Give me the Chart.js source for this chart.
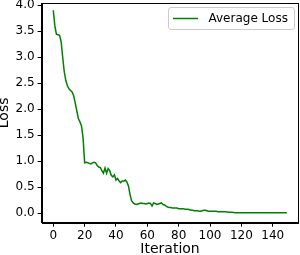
<!DOCTYPE html>
<html>
<head>
<meta charset="utf-8">
<script src="https://cdn.jsdelivr.net/npm/chart.js@4/dist/chart.umd.min.js"></script>
<style>
	html, body { margin: 0; padding: 0; background: #fff; }
	#wrap { width: 300px; height: 255px; }
</style>
</head>
<body>
<div id="wrap"><canvas id="chart" width="300" height="255"></canvas></div>
<script>
// Average loss per iteration
const loss_values = [
	3.90, 3.60, 3.44, 3.43, 3.42, 3.30, 3.00, 2.72, 2.55, 2.45,
	2.39, 2.36, 2.33, 2.26, 2.12, 1.97, 1.82, 1.76, 1.68, 1.45,
	0.97, 0.98, 0.97, 0.96, 0.95, 0.97, 0.98, 0.97, 0.92, 0.89,
	0.88, 0.82, 0.77, 0.87, 0.77, 0.86, 0.82, 0.73, 0.70, 0.74,
	0.64, 0.67, 0.62, 0.59, 0.62, 0.62, 0.64, 0.60, 0.52, 0.36,
	0.24, 0.20, 0.18, 0.17, 0.18, 0.19, 0.20, 0.19, 0.19, 0.18,
	0.19, 0.20, 0.19, 0.14, 0.20, 0.19, 0.17, 0.18, 0.19, 0.20,
	0.17, 0.16, 0.14, 0.12, 0.11, 0.11, 0.10, 0.10, 0.10, 0.10,
	0.09, 0.09, 0.09, 0.09, 0.08, 0.08, 0.08, 0.07, 0.06, 0.06,
	0.05, 0.05, 0.05, 0.04, 0.04, 0.05, 0.06, 0.06, 0.05, 0.04,
	0.04, 0.04, 0.04, 0.04, 0.04, 0.03, 0.03, 0.03, 0.03, 0.03,
	0.03, 0.025, 0.02, 0.02, 0.02, 0.015, 0.01, 0.01, 0.01, 0.01,
	0.01, 0.01, 0.01, 0.01, 0.01, 0.01, 0.01, 0.01, 0.01, 0.01,
	0.01, 0.01, 0.01, 0.01, 0.01, 0.01, 0.01, 0.01, 0.01, 0.01,
	0.01, 0.01, 0.01, 0.01, 0.01, 0.01, 0.01, 0.01, 0.01, 0.01
];
const x_ticks = [0, 20, 40, 60, 80, 100, 120, 140];
const y_ticks = [0.0, 0.5, 1.0, 1.5, 2.0, 2.5, 3.0, 3.5, 4.0];
const series_label = 'Average Loss';

const font_family = "'DejaVu Sans', sans-serif";
const line_color = '#008000';

// points as {x: iteration, y: loss}
const points = loss_values.map((v, i) => ({ x: i, y: v }));

// matplotlib-style frame + legend box inside the axes
const frame_plugin = {
	id: 'frame',
	afterDraw (chart) {
		const c = chart.ctx;
		const a = chart.chartArea;
		c.save();
		c.strokeStyle = '#000';
		c.lineWidth = 1;
		c.strokeRect(Math.round(a.left) + 0.5, Math.round(a.top) + 0.5,
			Math.round(a.right - a.left) - 1, Math.round(a.bottom - a.top));

		// legend
		const w = 126, h = 22;
		const lx = a.right - 4 - w, ly = a.top + 4.5;
		c.beginPath();
		c.roundRect(lx, ly, w, h, 2.5);
		c.fillStyle = 'rgba(255,255,255,0.8)';
		c.fill();
		c.strokeStyle = '#cccccc';
		c.lineWidth = 1;
		c.stroke();
		c.beginPath();
		c.moveTo(lx + 4.5, ly + h / 2);
		c.lineTo(lx + 29.5, ly + h / 2);
		c.strokeStyle = line_color;
		c.lineWidth = 1.5;
		c.stroke();
		c.fillStyle = '#000';
		c.font = '12px ' + font_family;
		c.textBaseline = 'middle';
		c.fillText(series_label, lx + 40, ly + h / 2 + 0.5);
		c.restore();
	}
};

// no extra room for half tick labels: the plot box is fixed like matplotlib's
function noLabelPadding (s) {
	s.paddingTop = 0;
	s.paddingBottom = 0;
	s.paddingLeft = 0;
	s.paddingRight = 0;
}

new Chart(document.getElementById('chart'), {
	type: 'line',
	data: {
		datasets: [{
			label: series_label,
			data: points,
			borderColor: line_color,
			borderWidth: 1.5,
			pointRadius: 0,
			tension: 0,
			fill: false
		}]
	},
	options: {
		responsive: false,
		animation: false,
		events: [],
		layout: { padding: { top: 3, right: 1.5, left: 0, bottom: 0 } },
		plugins: {
			legend: { display: false },
			tooltip: { enabled: false }
		},
		scales: {
			x: {
				type: 'linear',
				min: -7.45,
				max: 156.45,
				afterFit: s => { s.height = 32.3; noLabelPadding(s); },
				afterBuildTicks: s => { s.ticks = x_ticks.map(v => ({ value: v })); },
				grid: { drawOnChartArea: false, drawTicks: true, tickLength: 4, tickColor: '#000', tickWidth: 1 },
				border: { display: true, color: '#000', width: 1 },
				ticks: {
					color: '#000',
					padding: 2,
					maxRotation: 0,
					autoSkip: false,
					font: { family: font_family, size: 12 },
					callback: v => String(v)
				},
				title: {
					display: true,
					text: 'Iteration',
					color: '#000',
					padding: 0,
					font: { family: font_family, size: 14, lineHeight: 0.85 }
				}
			},
			y: {
				type: 'linear',
				min: -0.18,
				max: 4.04,
				afterFit: s => { s.width = 41.6; noLabelPadding(s); },
				afterBuildTicks: s => { s.ticks = y_ticks.map(v => ({ value: v })); },
				grid: { drawOnChartArea: false, drawTicks: true, tickLength: 4, tickColor: '#000', tickWidth: 1 },
				border: { display: true, color: '#000', width: 1 },
				ticks: {
					color: '#000',
					padding: 3,
					autoSkip: false,
					font: { family: font_family, size: 12 },
					callback: v => v.toFixed(1)
				},
				title: {
					display: true,
					text: 'Loss',
					color: '#000',
					padding: 0,
					font: { family: font_family, size: 14, lineHeight: 0.57 }
				}
			}
		}
	},
	plugins: [frame_plugin]
});
</script>
</body>
</html>
